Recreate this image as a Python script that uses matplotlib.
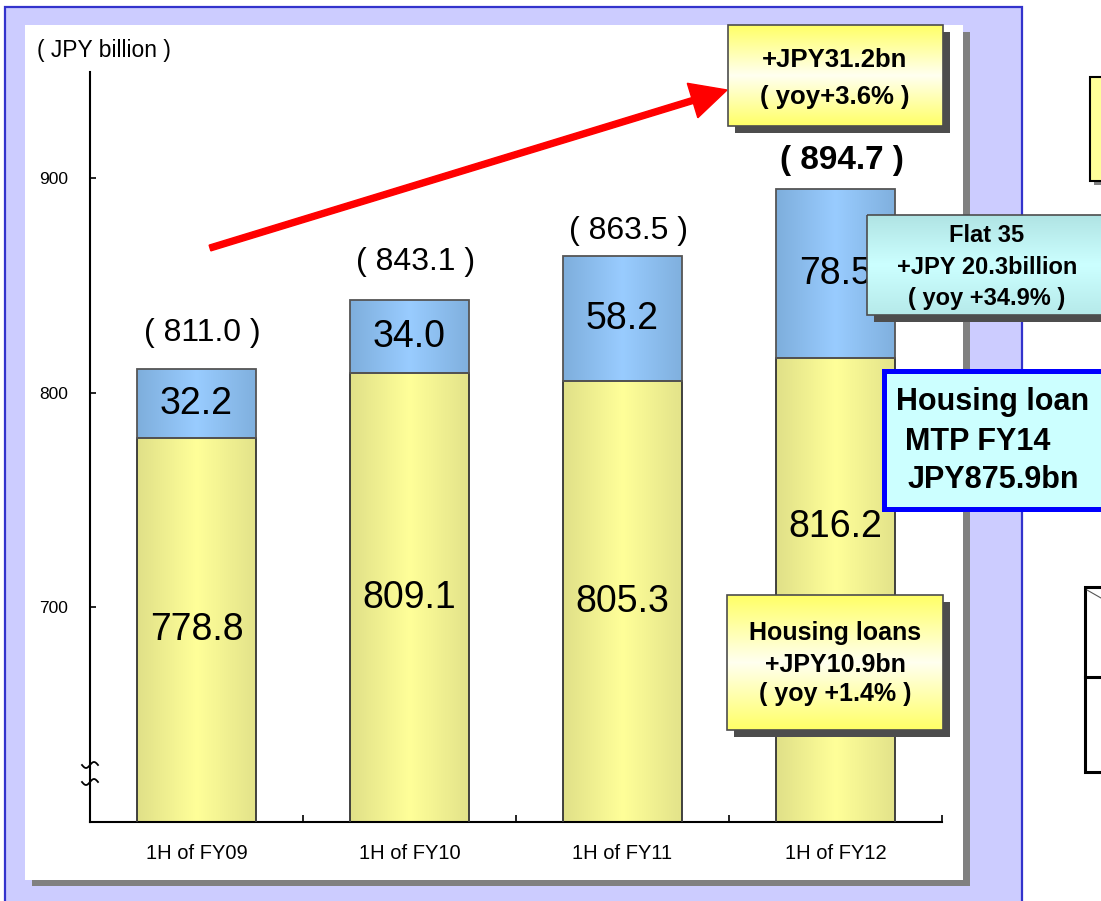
import numpy as np
import matplotlib
matplotlib.use("Agg")
import matplotlib.pyplot as plt
from matplotlib.patches import Rectangle, FancyArrow
from matplotlib.colors import LinearSegmentedColormap

# ---- data (JPY billion) ----
periods = ["1H of FY09", "1H of FY10", "1H of FY11", "1H of FY12"]
housing_loans = [778.8, 809.1, 805.3, 816.2]
flat35 = [32.2, 34.0, 58.2, 78.5]
totals = [811.0, 843.1, 863.5, 894.7]
y_ticks = [700, 800, 900]
unit_label = "( JPY billion )"

# ---- layout helpers ----
W, H, DPI = 1101, 901, 100
plt.rcParams["font.family"] = ["Liberation Sans", "DejaVu Sans"]
fig = plt.figure(figsize=(W / DPI, H / DPI), dpi=DPI)
fig.patch.set_facecolor("white")


def pixel_axes(z):
    a = fig.add_axes([0, 0, 1, 1], zorder=z)
    a.set_xlim(0, W)
    a.set_ylim(H, 0)
    a.axis("off")
    a.patch.set_alpha(0)
    return a


def gradient_rect(a, x0, y0, w, h, colors, vertical=True, zorder=2, edge="#4D4D4D", lw=1.2,
                  shadow=None, shadow_off=7):
    if shadow:
        a.add_patch(Rectangle((x0 + shadow_off, y0 + shadow_off), w, h,
                              facecolor=shadow, edgecolor="none", zorder=zorder - 0.2))
    cmap = LinearSegmentedColormap.from_list("g", colors)
    g = np.linspace(0, 1, 256)
    img = g[:, None] if vertical else g[None, :]
    clip = Rectangle((x0, y0), w, h, facecolor="none", edgecolor="none", transform=a.transData)
    a.add_patch(clip)
    im = a.imshow(img, extent=(x0, x0 + w, y0 + h, y0), origin="upper", cmap=cmap,
                  aspect="auto", interpolation="bilinear", zorder=zorder)
    im.set_clip_path(clip)
    a.add_patch(Rectangle((x0, y0), w, h, facecolor="none", edgecolor=edge, lw=lw,
                          zorder=zorder + 0.1))


# ---- background panel ----
bg = pixel_axes(0)
bg.add_patch(Rectangle((5, 7), 1017, 900, facecolor="#CCCCFF", edgecolor="#3333CC", lw=1.6))
bg.add_patch(Rectangle((32, 32), 938, 854, facecolor="#808080", edgecolor="none"))
bg.add_patch(Rectangle((25, 25), 938, 855, facecolor="white", edgecolor="none"))
bg.set_xlim(0, W)
bg.set_ylim(H, 0)

# ---- bar chart ----
ax = fig.add_axes([90 / W, (H - 822) / H, 852 / W, 750 / H], zorder=1)
ax.patch.set_alpha(0)
x = np.arange(len(periods))
bw = 0.554
y_floor, y_top = 600, 949.3

yellow_cmap = LinearSegmentedColormap.from_list("yl", ["#E0E088", "#FFFF99", "#E3E38A"])
blue_cmap = LinearSegmentedColormap.from_list("bl", ["#7EAEDC", "#99CCFF", "#80B0DE"])

bars_y = ax.bar(x, housing_loans, bw, facecolor="none", edgecolor="#333333", lw=1.3, zorder=3)
bars_b = ax.bar(x, flat35, bw, bottom=housing_loans, facecolor="none", edgecolor="#555555",
                lw=1.3, zorder=3)

grad = np.linspace(0, 1, 256)[None, :]
for bars, cmap in ((bars_y, yellow_cmap), (bars_b, blue_cmap)):
    for b in bars:
        bx, by, bwid, bh = b.get_x(), b.get_y(), b.get_width(), b.get_height()
        lo = max(by, y_floor)
        im = ax.imshow(grad, extent=(bx, bx + bwid, lo, by + bh), origin="lower", cmap=cmap,
                       aspect="auto", interpolation="bilinear", zorder=2)
        im.set_clip_path(b)

ax.set_xlim(-0.5, 3.5)
ax.set_ylim(y_floor, y_top)

# value labels
inner_frac = [0.5, 0.5, 0.5, 0.635]
for i in range(len(periods)):
    ax.text(x[i], y_floor + (housing_loans[i] - y_floor) * inner_frac[i], f"{housing_loans[i]:.1f}",
            ha="center", va="center", fontsize=27, zorder=4)
    ax.text(x[i], housing_loans[i] + flat35[i] / 2, f"{flat35[i]:.1f}",
            ha="center", va="center", fontsize=27, zorder=4)

total_offsets = [36, 38, 25, 29]
for i in range(len(periods)):
    last = i == len(periods) - 1
    ax.annotate(f"( {totals[i]:.1f} )", (x[i], totals[i]), xytext=(6, total_offsets[i]),
                textcoords="offset pixels", ha="center", va="center",
                fontsize=24 if last else 23,
                fontweight="bold" if last else "normal", zorder=4)

for s in ("top", "right"):
    ax.spines[s].set_visible(False)
for s in ("left", "bottom"):
    ax.spines[s].set_linewidth(1.5)
    ax.spines[s].set_color("black")

ax.set_yticks(y_ticks)
ax.set_yticklabels([str(t) for t in y_ticks])
ax.tick_params(axis="y", direction="in", length=4.5, width=1.2, labelsize=12.5, pad=16)
ax.set_xticks(x)
ax.set_xticklabels(periods)
ax.tick_params(axis="x", which="major", length=0, labelsize=14.5, pad=16)
ax.set_xticks(x + 0.5, minor=True)
ax.tick_params(axis="x", which="minor", direction="in", length=5, width=1.2)

# ---- overlay: annotations and callouts ----
ov = pixel_axes(3)

ov.text(37, 50, unit_label, ha="left", va="center", fontsize=16.5)

# axis break marks
wx = np.linspace(-8, 8, 40)
for yc in (765, 782):
    ov.plot(90 + wx, yc - 3 * np.sin(wx / 8 * np.pi), color="black", lw=1.3, zorder=5)

# growth arrow
ov.add_patch(FancyArrow(210, 248, 517, -158, width=6, head_width=36, head_length=36,
                        length_includes_head=True, color="#FF0000", zorder=4))

yellow_box = ["#FFFF66", "#FFFFF0", "#FFFF66"]
cyan_box = ["#B0E4E4", "#CCFFFF", "#B6EAEA"]

# total growth box
gradient_rect(ov, 728, 25, 215, 101, yellow_box, zorder=5, shadow="#4D4D4D")
ov.text(835, 60, "+JPY31.2bn", ha="center", va="center", fontsize=18.5, fontweight="bold", zorder=6)
ov.text(835, 97, "( yoy+3.6% )", ha="center", va="center", fontsize=18.5, fontweight="bold", zorder=6)

# Flat 35 box
gradient_rect(ov, 867, 215, 260, 100, cyan_box, zorder=5, shadow="#4D4D4D")
for yy, t in ((236, "Flat 35"), (267, "+JPY 20.3billion"), (299, "( yoy +34.9% )")):
    ov.text(987, yy, t, ha="center", va="center", fontsize=17, fontweight="bold", zorder=6)

# medium-term plan box
ov.add_patch(Rectangle((884, 370.5), 240, 138, facecolor="#CCFFFF", edgecolor="#0000FF",
                       lw=3.6, zorder=5))
for xx, yy, t in ((896, 402, "Housing loan"), (905, 442, "MTP FY14"), (908, 480, "JPY875.9bn")):
    ov.text(xx, yy, t, ha="left", va="center", fontsize=22, fontweight="bold", zorder=6)

# housing loans growth box
gradient_rect(ov, 727, 595, 216, 135, yellow_box, zorder=5, shadow="#4D4D4D")
for yy, t in ((633, "Housing loans"), (665, "+JPY10.9bn"), (694, "( yoy +1.4% )")):
    ov.text(835, yy, t, ha="center", va="center", fontsize=18, fontweight="bold", zorder=6)

# partially visible items at the right edge
ov.add_patch(Rectangle((1094, 81), 40, 104, facecolor="#808080", edgecolor="none", zorder=4))
ov.add_patch(Rectangle((1090, 77), 40, 104, facecolor="#FFFF99", edgecolor="black", lw=1.5, zorder=5))
ov.add_patch(Rectangle((1085, 587), 40, 185, facecolor="white", edgecolor="black", lw=2.2, zorder=5))
ov.plot([1085, 1101], [677, 677], color="black", lw=2.2, zorder=6)
ov.plot([1087, 1101], [590, 598], color="#555555", lw=0.8, zorder=6)

ov.set_xlim(0, W)
ov.set_ylim(H, 0)

fig.savefig("out.png", dpi=DPI)
